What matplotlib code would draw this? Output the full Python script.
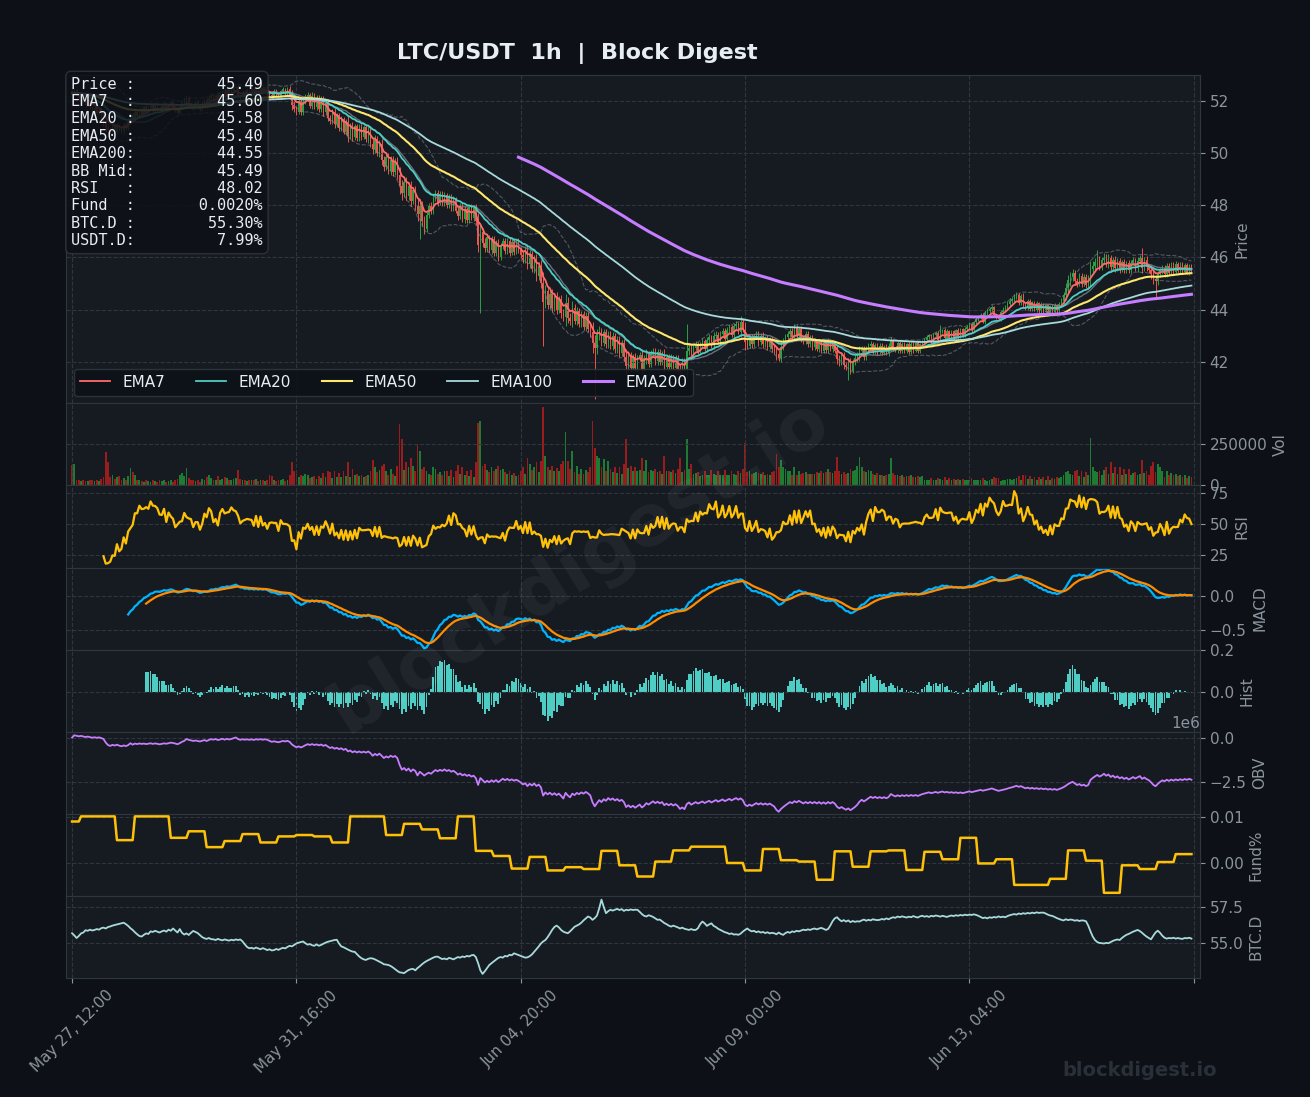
import numpy as np
import pandas as pd
import matplotlib
matplotlib.use("Agg")
import matplotlib.pyplot as plt

# ---- hourly LTC/USDT data ----
start = "2025-05-27 12:00"
first_open = 52.40
close = [
    52.30, 52.42, 52.28, 52.10, 52.18, 51.98, 51.86, 51.98, 51.76, 51.62, 51.74, 51.54, 51.64, 51.34, 51.16, 50.98, 50.88, 50.84, 51.06, 50.82,
    51.08, 50.90, 50.84, 51.10, 50.98, 51.24, 51.46, 51.30, 51.60, 51.42, 51.68, 51.52, 51.76, 51.58, 51.74, 51.86, 51.66, 51.90, 51.70, 51.64,
    51.84, 51.92, 51.68, 51.88, 51.96, 51.72, 51.64, 51.56, 51.82, 51.96, 52.04, 52.12, 51.88, 51.80, 51.74, 51.98, 51.74, 51.70, 51.96, 52.04,
    51.86, 52.12, 52.24, 52.02, 52.22, 52.06, 52.30, 52.36, 52.16, 52.44, 52.22, 52.40, 52.50, 52.54, 52.20, 52.14, 52.36, 52.18, 52.42, 52.24,
    52.46, 52.28, 52.50, 52.32, 52.52, 52.34, 52.54, 52.32, 52.24, 52.20, 52.40, 52.22, 52.16, 52.38, 52.46, 52.28, 52.48, 52.23, 51.85, 51.71,
    51.59, 51.99, 51.57, 52.01, 52.15, 52.23, 51.83, 52.21, 51.77, 52.13, 51.71, 52.05, 51.57, 51.91, 51.37, 51.23, 51.59, 51.11, 51.45, 50.97,
    51.31, 50.81, 51.21, 50.65, 51.05, 50.61, 51.03, 50.57, 51.01, 50.63, 50.99, 50.53, 50.91, 50.37, 50.17, 50.53, 50.01, 50.37, 49.73, 49.49,
    49.87, 49.33, 49.75, 49.27, 49.71, 49.17, 48.73, 48.47, 48.91, 48.37, 48.75, 48.17, 48.59, 47.97, 47.67, 47.98, 47.40, 47.10, 47.62, 47.98,
    47.80, 48.30, 48.46, 48.10, 48.44, 48.10, 48.40, 48.00, 48.33, 47.89, 48.23, 47.79, 47.59, 47.97, 47.47, 47.85, 47.43, 47.93, 47.53, 47.91,
    47.39, 46.49, 46.97, 46.57, 46.35, 46.77, 46.27, 46.69, 46.17, 46.55, 46.01, 46.45, 46.63, 46.23, 46.65, 46.17, 46.61, 46.21, 46.63, 46.27,
    46.09, 45.91, 46.33, 45.75, 46.13, 45.57, 45.95, 45.27, 45.69, 45.03, 44.29, 44.71, 44.17, 44.61, 44.07, 44.51, 43.97, 44.39, 43.85, 43.73,
    44.25, 43.69, 43.57, 44.07, 43.57, 43.95, 43.45, 43.83, 43.35, 43.75, 43.27, 43.13, 42.73, 42.53, 43.05, 43.17, 42.73, 43.13, 42.67, 43.05,
    42.59, 42.97, 42.47, 42.85, 42.33, 42.71, 42.17, 41.83, 42.23, 41.77, 42.19, 41.75, 42.15, 42.25, 41.73, 42.13, 42.29, 41.91, 42.31, 42.39,
    42.01, 42.37, 41.97, 42.31, 41.81, 42.19, 41.79, 42.17, 41.77, 42.13, 41.73, 41.65, 42.05, 41.71, 42.42, 42.54, 42.22, 42.54, 42.66, 42.38,
    42.68, 42.80, 42.50, 42.82, 42.94, 42.64, 42.98, 43.04, 42.76, 43.08, 43.18, 42.88, 43.22, 43.32, 43.02, 43.36, 43.44, 43.14, 43.52, 43.22,
    42.74, 42.62, 42.94, 42.66, 42.98, 43.06, 42.74, 43.00, 42.66, 42.92, 42.56, 42.84, 42.50, 42.42, 42.28, 42.16, 42.58, 42.78, 42.96, 43.08,
    43.18, 42.96, 43.32, 42.98, 43.24, 42.88, 42.80, 43.06, 42.66, 42.92, 42.56, 42.80, 42.50, 42.76, 42.42, 42.70, 42.44, 42.78, 42.50, 42.72,
    42.42, 42.12, 42.00, 42.24, 41.86, 41.78, 42.04, 41.66, 42.00, 42.14, 42.22, 42.42, 42.48, 42.18, 42.52, 42.60, 42.68, 42.38, 42.64, 42.36,
    42.62, 42.34, 42.58, 42.32, 42.60, 42.78, 42.50, 42.44, 42.72, 42.42, 42.68, 42.40, 42.66, 42.38, 42.68, 42.42, 42.70, 42.40, 42.66, 42.76,
    42.84, 42.94, 43.02, 42.72, 43.02, 43.10, 42.84, 43.16, 43.22, 42.92, 43.18, 42.90, 43.16, 42.92, 43.20, 42.96, 43.24, 43.00, 43.26, 43.34,
    43.44, 43.20, 43.52, 43.64, 43.72, 43.80, 43.54, 43.86, 43.94, 44.02, 44.08, 43.78, 43.70, 43.64, 43.92, 44.00, 44.08, 44.22, 44.34, 44.40,
    44.50, 44.56, 44.24, 44.52, 44.18, 44.06, 44.32, 44.02, 44.28, 43.98, 44.24, 43.94, 44.20, 43.90, 44.16, 43.88, 44.14, 43.90, 44.16, 43.94,
    44.20, 44.34, 44.54, 44.84, 45.12, 45.26, 45.40, 45.08, 45.00, 45.30, 44.98, 45.26, 44.94, 45.20, 45.56, 45.68, 45.82, 45.94, 45.64, 45.90,
    46.02, 45.76, 45.98, 45.64, 45.92, 45.58, 45.86, 45.54, 45.82, 45.52, 45.78, 45.50, 45.80, 45.90, 45.58, 45.88, 45.98, 45.60, 45.92, 45.62,
    45.52, 45.36, 45.18, 45.08, 45.36, 45.50, 45.60, 45.36, 45.68, 45.42, 45.74, 45.46, 45.76, 45.48, 45.74, 45.44, 45.70, 45.42, 45.66, 45.49,
]
# volume in thousands of LTC
volume_k = [
    125, 131, 30, 30, 25, 35, 28, 25, 35, 30, 25, 30, 25, 40, 50, 200, 140, 50, 60, 40,
    50, 55, 35, 45, 35, 55, 107, 80, 60, 30, 35, 25, 20, 30, 25, 20, 35, 28, 22, 30,
    25, 30, 20, 28, 35, 22, 30, 40, 60, 75, 55, 104, 45, 30, 35, 25, 30, 22, 40, 35,
    50, 60, 45, 30, 35, 55, 30, 40, 50, 45, 35, 30, 40, 45, 95, 40, 35, 30, 25, 30,
    30, 35, 40, 25, 30, 35, 28, 30, 60, 55, 30, 25, 30, 35, 40, 28, 35, 60, 143, 90,
    70, 50, 60, 55, 70, 60, 45, 50, 55, 40, 55, 45, 75, 50, 90, 80, 45, 85, 50, 75,
    50, 90, 55, 140, 50, 100, 60, 70, 55, 60, 50, 55, 65, 90, 155, 110, 80, 95, 120, 130,
    90, 60, 100, 70, 55, 120, 369, 280, 95, 140, 110, 167, 120, 90, 250, 205, 100, 110, 90, 70,
    60, 110, 100, 70, 80, 60, 85, 90, 55, 95, 50, 90, 125, 70, 110, 60, 90, 55, 95, 50,
    140, 378, 387, 120, 130, 95, 80, 110, 90, 100, 120, 95, 100, 80, 70, 85, 60, 75, 55, 65,
    90, 110, 70, 163, 130, 95, 110, 140, 80, 150, 470, 180, 110, 95, 120, 90, 105, 85, 130, 150,
    321, 150, 100, 205, 80, 120, 70, 100, 70, 95, 80, 110, 387, 228, 180, 165, 110, 160, 85, 150,
    100, 80, 110, 75, 110, 70, 130, 280, 105, 120, 90, 110, 85, 95, 167, 90, 155, 80, 95, 85,
    100, 80, 90, 70, 175, 85, 90, 80, 95, 75, 100, 165, 80, 95, 280, 100, 128, 70, 75, 80,
    55, 60, 85, 60, 65, 95, 70, 65, 90, 60, 65, 95, 60, 65, 85, 70, 60, 90, 75, 100,
    256, 80, 85, 70, 75, 80, 75, 70, 80, 65, 70, 65, 80, 85, 188, 110, 155, 110, 100, 90,
    90, 60, 110, 65, 85, 70, 75, 80, 70, 70, 70, 70, 80, 75, 90, 75, 80, 100, 80, 75,
    85, 174, 90, 70, 80, 70, 75, 100, 85, 95, 120, 174, 110, 90, 80, 95, 85, 70, 65, 75,
    60, 60, 55, 60, 70, 168, 75, 60, 65, 55, 60, 50, 55, 55, 60, 50, 50, 55, 50, 55,
    35, 35, 30, 45, 30, 35, 45, 40, 30, 50, 30, 45, 30, 40, 30, 40, 35, 40, 30, 35,
    35, 45, 30, 35, 30, 32, 45, 30, 28, 32, 38, 50, 45, 42, 28, 30, 32, 40, 38, 30,
    40, 45, 55, 35, 60, 60, 40, 55, 40, 50, 35, 50, 40, 50, 35, 55, 35, 45, 40, 50,
    45, 50, 60, 80, 90, 70, 60, 85, 95, 55, 85, 50, 80, 60, 286, 110, 90, 80, 90, 60,
    95, 110, 70, 140, 75, 110, 70, 110, 65, 100, 70, 100, 60, 75, 80, 65, 70, 155, 75, 90,
    60, 120, 140, 80, 130, 110, 90, 50, 85, 65, 75, 60, 70, 55, 65, 50, 60, 45, 55, 50,
]
# wick length beyond the body, in cents
wick_c = [
    6, 8, 5, 7, 4, 6, 9, 5, 7, 6, 8, 5, 7, 10, 12, 15, 14, 10, 8, 7,
    8, 6, 7, 9, 6, 8, 10, 7, 6, 5, 7, 6, 5, 8, 6, 5, 7, 6, 5, 6,
    5, 7, 6, 5, 8, 6, 7, 9, 6, 8, 7, 10, 6, 5, 7, 6, 5, 8, 6, 7,
    7, 8, 6, 5, 7, 8, 6, 7, 9, 6, 7, 5, 8, 6, 10, 7, 6, 5, 7, 6,
    6, 7, 5, 8, 6, 7, 5, 6, 8, 7, 6, 5, 7, 6, 8, 5, 7, 9, 18, 14,
    12, 10, 9, 11, 13, 10, 8, 12, 9, 10, 11, 13, 15, 12, 14, 10, 9, 13, 11, 10,
    12, 9, 11, 22, 10, 13, 9, 11, 10, 12, 9, 10, 12, 14, 20, 16, 13, 15, 18, 17,
    14, 12, 16, 13, 11, 15, 30, 25, 14, 18, 15, 20, 12, 16, 28, 26, 18, 20, 14, 12,
    15, 13, 12, 11, 10, 12, 11, 9, 12, 10, 11, 9, 16, 12, 11, 13, 9, 10, 11, 12,
    14, 30, 35, 15, 16, 13, 11, 14, 12, 13, 15, 12, 13, 11, 10, 12, 9, 11, 9, 10,
    12, 14, 11, 20, 16, 13, 15, 18, 12, 20, 40, 22, 16, 14, 17, 13, 15, 12, 16, 18,
    35, 22, 18, 25, 14, 15, 12, 13, 12, 14, 15, 18, 40, 30, 22, 20, 14, 12, 13, 14,
    12, 15, 13, 12, 14, 11, 16, 30, 18, 15, 12, 14, 11, 13, 22, 12, 20, 11, 13, 12,
    13, 12, 10, 9, 18, 11, 10, 12, 10, 13, 11, 18, 10, 11, 30, 16, 12, 10, 12, 10,
    9, 11, 8, 12, 13, 10, 14, 12, 9, 11, 13, 10, 11, 12, 8, 14, 11, 9, 20, 10,
    30, 14, 10, 12, 9, 11, 12, 10, 13, 8, 10, 9, 12, 14, 20, 15, 18, 12, 11, 10,
    12, 10, 14, 9, 11, 12, 13, 11, 10, 9, 12, 10, 8, 11, 9, 10, 9, 12, 10, 11,
    9, 22, 15, 12, 13, 11, 10, 12, 10, 12, 14, 20, 13, 11, 10, 12, 10, 9, 8, 9,
    8, 9, 7, 8, 10, 18, 9, 8, 9, 7, 8, 6, 7, 8, 9, 7, 6, 8, 7, 8,
    6, 7, 6, 5, 8, 7, 9, 6, 5, 7, 6, 5, 6, 7, 5, 8, 6, 5, 7, 8,
    8, 7, 6, 9, 8, 7, 6, 8, 7, 9, 10, 7, 6, 5, 7, 8, 9, 10, 9, 8,
    12, 10, 8, 7, 10, 9, 7, 8, 6, 5, 7, 6, 8, 5, 6, 7, 5, 6, 8, 7,
    9, 12, 14, 18, 22, 20, 16, 12, 14, 10, 12, 9, 11, 14, 30, 18, 16, 20, 13, 11,
    14, 12, 16, 13, 11, 12, 10, 13, 9, 12, 10, 11, 9, 10, 9, 12, 10, 20, 11, 13,
    12, 18, 20, 16, 13, 11, 12, 10, 11, 9, 10, 9, 10, 8, 9, 8, 9, 7, 8, 8,
]
long_lows = [(155, 46.70), (182, 43.85), (210, 42.60), (233, 40.55), (346, 41.30), (483, 44.46)]
long_highs = [(274, 43.45), (298, 43.77), (387, 43.40), (420, 44.60), (457, 46.27), (477, 46.35)]
btc_d = [
    55.67, 55.52, 55.34, 55.48, 55.66, 55.72, 55.88, 55.84, 55.92, 55.86, 55.90, 55.96, 55.92, 56.02, 56.06, 56.00, 56.10, 56.14, 56.20, 56.24,
    56.28, 56.32, 56.36, 56.40, 56.30, 56.18, 56.02, 55.90, 55.74, 55.60, 55.48, 55.44, 55.56, 55.66, 55.62, 55.80, 55.76, 55.84, 55.78, 55.72,
    55.80, 55.86, 55.78, 55.92, 55.84, 56.00, 55.86, 55.72, 55.96, 55.70, 55.58, 55.66, 55.55, 55.70, 55.83, 55.76, 55.68, 55.54, 55.40, 55.32,
    55.28, 55.34, 55.26, 55.25, 55.20, 55.28, 55.22, 55.18, 55.24, 55.20, 55.16, 55.22, 55.18, 55.24, 55.20, 55.24, 55.10, 54.90, 54.72, 54.63,
    54.66, 54.60, 54.68, 54.62, 54.56, 54.64, 54.58, 54.50, 54.56, 54.48, 54.50, 54.58, 54.52, 54.60, 54.66, 54.62, 54.72, 54.80, 54.76, 54.86,
    54.96, 55.02, 55.06, 55.10, 54.98, 54.88, 54.92, 54.84, 54.80, 54.90, 54.80, 54.86, 54.94, 55.02, 55.08, 55.12, 55.16, 55.20, 55.22, 54.96,
    54.76, 54.70, 54.62, 54.54, 54.46, 54.40, 54.38, 54.22, 54.06, 53.94, 53.86, 53.82, 53.90, 53.94, 53.92, 53.86, 53.78, 53.70, 53.62, 53.52,
    53.50, 53.47, 53.40, 53.30, 53.18, 53.06, 52.96, 52.94, 52.90, 53.02, 53.12, 53.18, 53.20, 53.10, 53.26, 53.38, 53.52, 53.64, 53.74, 53.82,
    53.90, 53.98, 54.04, 54.05, 53.96, 53.88, 53.92, 53.86, 53.96, 53.92, 53.86, 53.94, 54.02, 53.98, 54.06, 54.02, 54.10, 54.06, 54.14, 54.17,
    54.02, 53.60, 53.10, 52.85, 53.04, 53.26, 53.47, 53.60, 53.72, 53.84, 53.96, 54.02, 53.98, 54.10, 54.06, 54.18, 54.14, 54.28, 54.22, 54.16,
    54.10, 54.04, 53.98, 54.00, 54.08, 54.20, 54.38, 54.56, 54.75, 54.96, 55.10, 55.20, 55.40, 55.64, 55.90, 56.10, 56.20, 56.08, 55.90, 55.78,
    55.72, 55.67, 55.80, 55.96, 56.12, 56.20, 56.28, 56.40, 56.56, 56.70, 56.83, 56.76, 56.60, 56.72, 56.90, 57.40, 58.00, 57.50, 57.06, 57.20,
    57.30, 57.24, 57.30, 57.36, 57.28, 57.34, 57.22, 57.30, 57.26, 57.32, 57.28, 57.30, 57.30, 57.16, 57.00, 56.88, 56.83, 56.92, 56.87, 56.80,
    56.70, 56.60, 56.62, 56.50, 56.38, 56.30, 56.20, 56.13, 56.20, 56.14, 56.08, 56.00, 56.06, 55.98, 55.94, 55.90, 55.96, 55.90, 55.90, 56.02,
    56.30, 56.48, 56.36, 56.18, 56.28, 56.36, 56.18, 56.10, 55.98, 55.90, 55.82, 55.74, 55.70, 55.62, 55.66, 55.58, 55.60, 55.56, 55.64, 55.78,
    55.90, 56.00, 55.88, 55.80, 55.84, 55.74, 55.80, 55.72, 55.76, 55.68, 55.74, 55.66, 55.70, 55.67, 55.60, 55.72, 55.62, 55.56, 55.68, 55.76,
    55.70, 55.80, 55.76, 55.84, 55.80, 55.86, 55.92, 55.88, 55.94, 55.90, 55.96, 56.00, 55.94, 56.00, 56.04, 55.98, 55.90, 55.96, 56.20, 56.50,
    56.70, 56.78, 56.62, 56.50, 56.58, 56.48, 56.56, 56.44, 56.52, 56.46, 56.50, 56.48, 56.56, 56.62, 56.54, 56.60, 56.56, 56.64, 56.60, 56.58,
    56.60, 56.66, 56.62, 56.70, 56.64, 56.72, 56.78, 56.74, 56.83, 56.78, 56.84, 56.80, 56.76, 56.82, 56.78, 56.86, 56.80, 56.76, 56.84, 56.88,
    56.82, 56.86, 56.80, 56.88, 56.84, 56.90, 56.87, 56.82, 56.88, 56.84, 56.80, 56.86, 56.90, 56.86, 56.92, 56.88, 56.94, 56.90, 56.96, 56.92,
    56.96, 56.94, 56.98, 56.94, 56.88, 56.80, 56.72, 56.76, 56.70, 56.78, 56.74, 56.80, 56.76, 56.84, 56.78, 56.82, 56.78, 56.86, 56.92, 56.96,
    57.00, 56.96, 57.04, 57.00, 57.06, 57.02, 57.08, 57.04, 57.10, 57.06, 57.12, 57.08, 57.10, 57.10, 57.04, 56.96, 56.90, 56.87, 56.80, 56.72,
    56.66, 56.60, 56.56, 56.64, 56.58, 56.62, 56.60, 56.54, 56.58, 56.52, 56.56, 56.55, 56.50, 56.20, 55.80, 55.44, 55.20, 55.06, 55.00, 54.98,
    54.96, 55.00, 54.98, 55.06, 55.14, 55.20, 55.24, 55.20, 55.34, 55.46, 55.56, 55.62, 55.70, 55.78, 55.84, 55.90, 55.82, 55.70, 55.56, 55.44,
    55.34, 55.25, 55.50, 55.72, 55.85, 55.70, 55.50, 55.36, 55.30, 55.34, 55.32, 55.36, 55.30, 55.34, 55.30, 55.28, 55.34, 55.32, 55.36, 55.30,
]
# funding rate (%) per 8h settlement window; first window is 4h
fund_windows = [
    0.0090, 0.0101, 0.0101, 0.0050, 0.0101, 0.0101, 0.0055, 0.0069, 0.0035, 0.0048,
    0.0063, 0.0045, 0.0058, 0.0061, 0.0058, 0.0045, 0.0101, 0.0101, 0.0061, 0.0085,
    0.0073, 0.0054, 0.0101, 0.0027, 0.0016, -0.0011, 0.0014, -0.0015, -0.0008, -0.0012,
    0.0027, -0.0004, -0.0028, 0.0004, 0.0028, 0.0036, 0.0036, 0.0001, -0.0015, 0.0031,
    0.0007, 0.0004, -0.0035, 0.0026, -0.0007, 0.0026, 0.0028, -0.0014, 0.0025, 0.0009,
    0.0055, 0.0000, 0.0009, -0.0046, -0.0046, -0.0033, 0.0028, 0.0006, -0.0063, -0.0004,
    -0.0012, 0.0003, 0.0020,
]
fund_hours = [4] + [8] * 62
info_labels = ["Price", "EMA7", "EMA20", "EMA50", "EMA200", "BB Mid", "RSI", "Fund", "BTC.D", "USDT.D"]
info_values = ["45.49", "45.60", "45.58", "45.40", "44.55", "45.49", "48.02", "0.0020%", "55.30%", "7.99%"]

n = len(close)
assert len(volume_k) == n and len(wick_c) == n and len(btc_d) == n and sum(fund_hours) == n

# ---- indicators ----
c = pd.Series(close, dtype=float)
o = c.shift(1).fillna(first_open)
vol = pd.Series(volume_k, dtype=float) * 1000
wick = np.array(wick_c) / 100.0
hi = np.maximum(o, c).values + wick
lo = np.minimum(o, c).values - wick
for i, v in long_lows:
    lo[i] = v
for i, v in long_highs:
    hi[i] = v
up = (c >= o).values

ema = {p: c.ewm(span=p, adjust=False, min_periods=200 if p == 200 else 0).mean()
       for p in (7, 20, 50, 100, 200)}
bb_mid = c.rolling(20).mean()
bb_sd = c.rolling(20).std()
bb_up, bb_lo = bb_mid + 2 * bb_sd, bb_mid - 2 * bb_sd

d = c.diff()
gain = d.clip(lower=0).rolling(14).mean()
loss = (-d.clip(upper=0)).rolling(14).mean()
rsi = 100 - 100 / (1 + gain / loss)

macd = (c.ewm(span=12, adjust=False, min_periods=12).mean()
        - c.ewm(span=26, adjust=False, min_periods=26).mean())
signal = macd.ewm(span=9, adjust=False, min_periods=9).mean()
hist = macd - signal

obv = (np.sign(d.fillna(0)) * vol).cumsum()
fund = np.repeat(fund_windows, fund_hours)
dates = pd.date_range(start, periods=n, freq="h")
x = np.arange(n)

# ---- style ----
BG = "#0d1117"
PANEL = "#161b22"
GRID = "#30363d"
TXT = "#8b949e"

fig = plt.figure(figsize=(13.1, 10.97), dpi=100, facecolor=BG)
gs = fig.add_gridspec(8, 1, height_ratios=[4, 1, 1, 1, 1, 1, 1, 1], hspace=0,
                      left=0.0504, right=0.916, top=0.9316, bottom=0.1085)
axes = [fig.add_subplot(gs[0])]
for k in range(1, 8):
    axes.append(fig.add_subplot(gs[k], sharex=axes[0]))
ax_p, ax_v, ax_r, ax_m, ax_h, ax_o, ax_f, ax_b = axes

for ax in axes:
    ax.set_facecolor(PANEL)
    ax.grid(True, color=GRID, linestyle="--", linewidth=0.8)
    ax.yaxis.tick_right()
    ax.yaxis.set_label_position("right")
    ax.tick_params(colors=TXT, labelsize=11)
    for s in ax.spines.values():
        s.set_color(GRID)
    ax.yaxis.offsetText.set_color(TXT)
    ax.yaxis.offsetText.set_fontsize(11)

# price panel
candle_col = np.where(up, "#2ea043", "#f0544a")
ax_p.vlines(x, lo, hi, colors=candle_col, linewidth=0.7)
ax_p.bar(x, (c - o).abs().clip(lower=0.01), bottom=np.minimum(o, c), width=0.6, color=candle_col)
ax_p.plot(x, bb_up, color=TXT, lw=0.8, ls="--", alpha=0.5)
ax_p.plot(x, bb_lo, color=TXT, lw=0.8, ls="--", alpha=0.5)
ax_p.plot(x, bb_mid, color="#7d8590", lw=1.0, alpha=0.8)
ema_style = {7: ("#ff6b6b", 1.3), 20: ("#4ecdc4", 1.3), 50: ("#ffe66d", 1.5),
             100: ("#a8dadc", 1.3), 200: ("#c77dff", 2.2)}
for p, (col, lw) in ema_style.items():
    ax_p.plot(x, ema[p], color=col, lw=lw, label=f"EMA{p}")
ax_p.set_ylim(40.4, 53.0)
ax_p.set_ylabel("Price", color=TXT, fontsize=11)
ax_p.legend(loc="lower left", ncol=5, fontsize=11, facecolor=BG,
            edgecolor=GRID, framealpha=0.9, labelcolor="#e6edf3")

info = "\n".join(f"{lab:<6}:{val:>14}" for lab, val in zip(info_labels, info_values))
ax_p.text(0.0045, 0.995, info, transform=ax_p.transAxes, va="top", ha="left",
          family="DejaVu Sans Mono", fontsize=11, color="#e6edf3", linespacing=1.2,
          bbox=dict(boxstyle="round,pad=0.35", facecolor=BG, edgecolor=GRID, alpha=0.85),
          zorder=10)

# volume
ax_v.bar(x, vol, width=0.8, color=np.where(up, "#1e7b34", "#9b1c1c"))
ax_v.set_ylim(0, 494000)
ax_v.set_ylabel("Vol", color=TXT, fontsize=11)

# rsi
ax_r.plot(x, rsi, color="#ffc107", lw=1.6)
ax_r.set_ylim(15.3, 80.6)
ax_r.set_ylabel("RSI", color=TXT, fontsize=11)

# macd
ax_m.plot(x, macd, color="#00b4ff", lw=1.6)
ax_m.plot(x, signal, color="#ff8c00", lw=1.6)
ax_m.set_ylim(-0.794, 0.426)
ax_m.set_ylabel("MACD", color=TXT, fontsize=11)

# histogram
ax_h.bar(x, hist, width=0.8, color="#4ecdc4")
ax_h.set_ylim(-0.186, 0.2)
ax_h.set_ylabel("Hist", color=TXT, fontsize=11)

# obv
ax_o.plot(x, obv, color="#c77dff", lw=1.3)
ax_o.set_ylim(-4.28e6, 0.33e6)
ax_o.set_ylabel("OBV", color=TXT, fontsize=11)

# funding
ax_f.plot(x, fund, color="#ffc107", lw=1.8)
ax_f.set_ylim(-0.00696, 0.01065)
ax_f.set_ylabel("Fund%", color=TXT, fontsize=11)

# btc dominance
ax_b.plot(x, btc_d, color="#a8dadc", lw=1.3)
ax_b.set_ylim(52.57, 58.26)
ax_b.set_ylabel("BTC.D", color=TXT, fontsize=11)

ticks = np.arange(0, n + 1, 100)
ax_b.set_xticks(ticks)
ax_b.set_xticklabels([dates[t].strftime("%b %d, %H:%M") if t < n else "" for t in ticks],
                     rotation=45)
ax_b.set_xlim(-2.7, n + 2.8)
for ax in axes[:-1]:
    plt.setp(ax.get_xticklabels(), visible=False)
    ax.tick_params(axis="x", length=0)

fig.text(0.441, 0.951, "LTC/USDT  1h  |  Block Digest", ha="center", va="center",
         fontsize=16, fontweight="bold", color="#e6edf3")
fig.text(0.443, 0.485, "blockdigest.io", ha="center", va="center", rotation=32,
         fontsize=52, fontweight="bold", color="#ffffff", alpha=0.05)
fig.text(0.870, 0.0246, "blockdigest.io", ha="center", va="center",
         fontsize=14, fontweight="bold", color="#2a3039")

fig.savefig("out.png", dpi=100, facecolor=BG)
